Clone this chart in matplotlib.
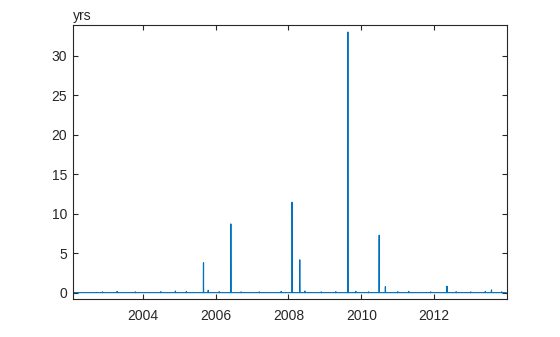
import numpy as np
import matplotlib
matplotlib.use("Agg")
import matplotlib.pyplot as plt

plt.rcParams['font.family'] = ['Liberation Sans', 'DejaVu Sans']

# series span (decimal years)
t_start = 2002.12
t_end = 2013.97

# large spikes: date, peak value, value of the neighbouring sample
spike_dates = [2005.67, 2006.42, 2008.10, 2008.31, 2009.63, 2010.49, 2010.66, 2012.35, 2013.57]
spike_peaks = [3.78, 8.7, 11.45, 4.15, 33.0, 7.27, 0.76, 0.81, 0.34]
spike_second = [0.5, 4.67, 10.1, 1.64, 15.0, 0.3, 0.2, 0.2, 0.1]

# small blips close to zero
blip_dates = [2002.9, 2003.3, 2003.8, 2004.5, 2004.9, 2005.2, 2005.8, 2006.1, 2006.7,
              2007.2, 2007.8, 2008.45, 2008.9, 2009.3, 2009.85, 2010.2, 2011.0,
              2011.3, 2011.9, 2012.6, 2013.0, 2013.4, 2013.85]
blip_values = [0.1, 0.15, 0.1, 0.12, 0.2, 0.15, 0.3, 0.12, 0.1,
               0.1, 0.15, 0.2, 0.1, 0.12, 0.15, 0.1, 0.12,
               0.15, 0.1, 0.12, 0.1, 0.15, 0.1]

yticks = [0, 5, 10, 15, 20, 25, 30]
xticks = [2004, 2006, 2008, 2010, 2012]

# build the time series from the listed samples
pts = [(t_start, 0.0), (t_end, 0.0)]
for d, p, s in zip(spike_dates, spike_peaks, spike_second):
    pts += [(d - 0.004, 0.0), (d, p), (d + 0.002, s), (d + 0.006, 0.0)]
for d, v in zip(blip_dates, blip_values):
    pts += [(d - 0.004, 0.0), (d, v), (d + 0.004, 0.0)]
pts.sort()
t = np.array([p[0] for p in pts])
y = np.array([p[1] for p in pts])

fig = plt.figure(figsize=(5.6, 3.37), dpi=100)
ax = fig.add_axes([0.131, 0.112, 0.774, 0.814])
ax.plot(t, y, color='#0072BD', lw=0.85)

ax.set_xlim(2002.10, 2013.99)
ax.set_ylim(-0.84, 33.9)
ax.set_xticks(xticks)
ax.set_xticklabels([str(x) for x in xticks])
ax.set_yticks(yticks)

dark = '#262626'
for s in ax.spines.values():
    s.set_color(dark)
    s.set_linewidth(0.8)
ax.tick_params(direction='in', top=True, right=True, length=3.5, width=0.8,
               colors=dark, labelsize=10, labelcolor=dark)
ax.tick_params(axis='x', pad=7.0)
ax.tick_params(axis='y', pad=4.5)

ax.text(0, 1.008, 'yrs', transform=ax.transAxes, ha='left', va='bottom',
        fontsize=10, color=dark)

fig.savefig('out.png', dpi=100)
